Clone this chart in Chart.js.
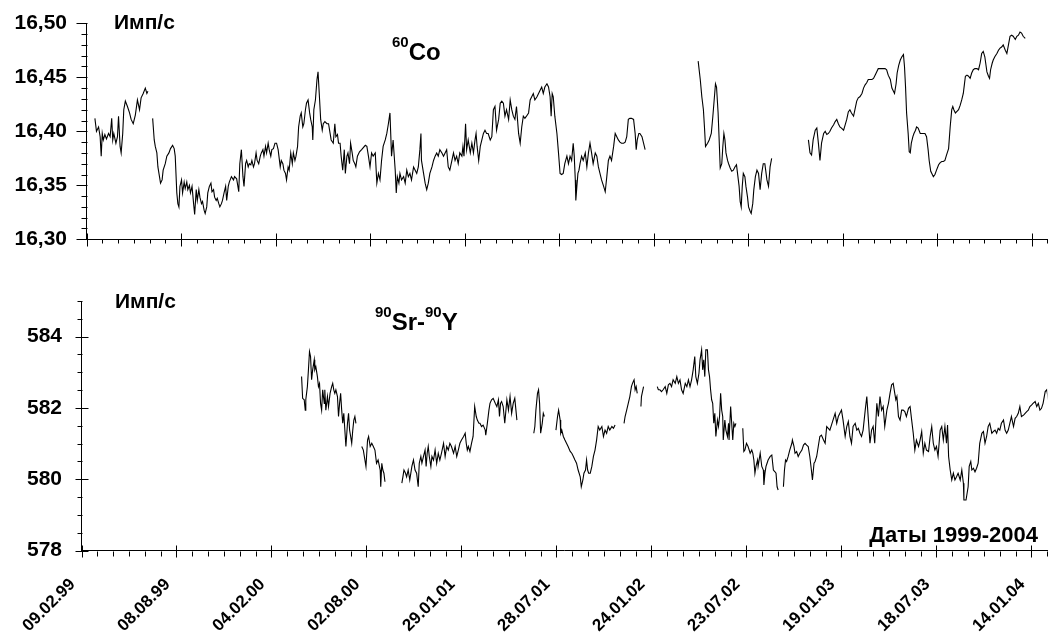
<!DOCTYPE html>
<html><head><meta charset="utf-8">
<script src="https://cdn.jsdelivr.net/npm/chart.js@4.4.0/dist/chart.umd.min.js"></script>
<style>
html,body{margin:0;padding:0;background:#fff;}
#wrap{position:relative;width:1048px;height:637px;overflow:hidden;font-family:"Liberation Sans",Arial,sans-serif;font-weight:bold;color:#000;}
#c1{position:absolute;left:0;top:0;width:1048px;height:262px;}
#c2{position:absolute;left:0;top:262px;width:1048px;height:375px;}
.t{position:absolute;line-height:1;white-space:nowrap;}
.t sup{font-size:15px;vertical-align:baseline;position:relative;top:-13px;line-height:1;}
</style></head><body>
<div id="wrap">
<canvas id="c1" width="1048" height="262"></canvas>
<canvas id="c2" width="1048" height="375"></canvas>
<div class="t" style="left:114px;top:11px;font-size:21px">Имп/с</div>
<div class="t" style="left:392px;top:40px;font-size:24px"><sup>60</sup>Co</div>
<div class="t" style="left:115px;top:290px;font-size:21px">Имп/с</div>
<div class="t" style="left:375px;top:310px;font-size:24px"><sup>90</sup>Sr-<sup>90</sup>Y</div>
<div class="t" style="right:10px;top:524px;font-size:22px">Даты 1999-2004</div>
</div>
<script>
// Date tick labels, one every 180 days starting 09.02.99 (day 0)
const dateLabels = ['09.02.99','08.08.99','04.02.00','02.08.00','29.01.01','28.07.01','24.01.02','23.07.02','19.01.03','18.07.03','14.01.04'];
const coTickValues = [16.30,16.35,16.40,16.45,16.50];
const srTickValues = [578,580,582,584];

// 60Co: day since 09.02.99, count rate (imp/s); null = gap
const coDays = [
16,19,23,26,28,30,32,35,38,42, 45,48,50,52,56,59,61,64,66,69, 71,74,78,82,85,89,93,97,101,104, 108,112,115,117,
121,
126,129,131,134,136,139,141,144,146,150, 153,157,160,164,167,169,172,174,176,178, 181,183,186,188,191,193,196,198,201,204,
206,209,211,214,216,219,221,224,226,229, 231,234,237,239,242,244,247,249,252,254, 257,259,262,265,267,270,272,276,280,282,
286,290,292,295,298,300,303,305,308,310, 313,315,318,320,323,325,328,331,333,336, 338,341,343,346,348,351,353,356,359,362,
365,369,371,374,376,379,381,384,386,389, 392,394,397,399,402,404,407,409,412,414, 417,419,422,425,427,430,431,433,436,439,
441,444,446,449,451,454,458,461,464,466, 470,473,475,478,480,483,485,488,491,493, 496,498,501,503,506,508,511,513,516,520,
524,531,534,537,540,543,546,550,553,556, 559,562,565,569,572,575,578,581,584,588, 590,592,595,597,600,604,607,610,613,616,
619,623,626,629,632,635,637,638,642,645, 648,651,654,658,661,664,667,670,673,677, 680,683,686,689,692,696,699,702,705,708,
711,715,717,719,722,724,727,731,734,737, 740,742,744,747,750,753,756,759,762,765, 769,772,775,778,781,785,788,791,794,797,
800,804,807,810,813,816,819,823,826,829, 832,835,838,842,845,848,851,854,858,861, 864,867,870,873,877,880,883,885,887,889,
892,896,899,902,905,908,911,915,918,921, 924,927,929,931,932,934,936,938,940,943, 946,950,953,956,959,962,965,969,972,975,
978,981,985,988,991,994,997,1000,1004,1007, 1010,1013,1016,1019,1023,1026,1029,1032,1035,1038, 1042,1045,1047,1049,1052,1054,1058,1061,1064,
1110,
1165,1169,1172,1175,1177,1179,1183,1186,1190,1193, 1195,1198,1200,1203,1205,1207,1210,1212,1214,1216, 1218,1221,1223,1226,1229,1232,1235,1238,1240,1243,
1245,1247,1249,1251,1254,1256,1259,1261,1264,1266, 1269,1271,1274,1277,1280,1283,1286,1289,1292,1296, 1299,1302,1305,
1340,
1375,1378,1381,1384,1388,1391,1394,1397,1400,1404, 1407,1410,1413,1416,1419,1423,1426,1429,1432,1435, 1438,1442,1445,1448,1451,1454,1457,1461,1464,1467,
1470,1473,1477,1480,1483,1486,1489,1492,1496,1499, 1502,1505,1508,1515,1521,1524,1527,1531,1534,1537, 1539,1542,1544,1547,1550,1553,1556,1558,1560,1562,
1565,1567,1569,1571,1574,1576,1579,1581,1584,1588, 1591,1594,1597,1600,1603,1605,1608,1611,1613,1616, 1619,1623,1626,1629,1632,1635,1638,1642,1645,1648,
1650,1652,1655,1657,1661,1664,1667,1670,1672,1674, 1677,1680,1683,1686,1689,1692,1696,1699,1702,1705, 1708,1711,1715,1718,1720,1722,1725,1727,1730,1734,
1737,1740,1743,1746,1750,1753,1756,1759,1762,1765, 1769,1772,1775,1778,1781,1784,1788
];
const coCounts = [
16.412,16.400,16.404,16.395,16.377,16.398,16.392,16.397,16.393,16.398, 16.395,16.412,16.392,16.398,16.389,16.395,16.414,16.386,16.380,16.398, 16.420,16.428,16.423,16.417,16.411,16.407,16.415,16.429,16.420,16.431, 16.435,16.440,16.435,16.437,
null,
16.412,16.392,16.386,16.380,16.367,16.358,16.352,16.355,16.364,16.370, 16.377,16.380,16.384,16.387,16.384,16.377,16.343,16.333,16.330,16.349, 16.355,16.343,16.353,16.347,16.353,16.346,16.350,16.343,16.349,16.333,
16.323,16.346,16.336,16.346,16.339,16.333,16.335,16.327,16.324,16.330, 16.343,16.349,16.352,16.344,16.346,16.339,16.336,16.338,16.333,16.330, 16.333,16.336,16.343,16.349,16.336,16.349,16.353,16.358,16.355,16.358,
16.356,16.344,16.370,16.383,16.358,16.349,16.370,16.373,16.367,16.370, 16.369,16.373,16.367,16.370,16.380,16.373,16.370,16.377,16.380,16.383, 16.377,16.386,16.380,16.389,16.383,16.377,16.383,16.384,16.389,16.389,
16.383,16.367,16.373,16.370,16.364,16.361,16.355,16.367,16.364,16.380, 16.370,16.380,16.373,16.377,16.386,16.404,16.414,16.417,16.404,16.407, 16.420,16.426,16.429,16.417,16.411,16.404,16.392,16.420,16.429,16.448,
16.455,16.429,16.411,16.401,16.407,16.409,16.407,16.407,16.398,16.392, 16.389,16.407,16.395,16.397,16.389,16.389,16.377,16.364,16.383,16.361, 16.377,16.380,16.370,16.389,16.380,16.373,16.370,16.367,16.377,16.381,
16.383,16.387,16.386,16.377,16.367,16.380,16.377,16.380,16.352,16.361, 16.355,16.373,16.386,16.392,16.398,16.407,16.417,16.377,16.392,16.364, 16.343,16.358,16.352,16.361,16.355,16.358,16.352,16.364,16.358,16.361,
16.355,16.367,16.364,16.361,16.367,16.383,16.398,16.373,16.361,16.352, 16.346,16.352,16.361,16.367,16.373,16.377,16.380,16.377,16.383,16.380, 16.377,16.380,16.383,16.367,16.364,16.373,16.380,16.373,16.377,16.370,
16.380,16.377,16.386,16.377,16.407,16.383,16.392,16.380,16.389,16.380, 16.392,16.398,16.386,16.373,16.386,16.392,16.398,16.401,16.398,16.398, 16.392,16.395,16.420,16.423,16.401,16.411,16.426,16.428,16.426,16.414,
16.420,16.411,16.429,16.420,16.414,16.411,16.423,16.398,16.389,16.404, 16.414,16.412,16.414,16.417,16.429,16.432,16.435,16.429,16.432,16.435, 16.438,16.441,16.435,16.441,16.444,16.441,16.432,16.414,16.435,16.432,
16.414,16.398,16.380,16.361,16.360,16.361,16.370,16.377,16.370,16.377, 16.373,16.389,16.377,16.355,16.336,16.349,16.361,16.364,16.370,16.377, 16.373,16.380,16.367,16.380,16.389,16.380,16.370,16.380,16.377,16.367,
16.361,16.355,16.349,16.344,16.358,16.373,16.377,16.373,16.386,16.398, 16.395,16.392,16.390,16.389,16.389,16.390,16.395,16.411,16.412,16.412, 16.411,16.398,16.383,16.392,16.398,16.398,16.395,16.389,16.383,
null,
16.465,16.448,16.432,16.420,16.404,16.386,16.389,16.392,16.398,16.414, 16.426,16.444,16.441,16.417,16.392,16.366,16.370,16.386,16.398,16.392, 16.380,16.373,16.370,16.366,16.363,16.364,16.367,16.369,16.361,16.349,
16.335,16.330,16.349,16.361,16.358,16.349,16.339,16.330,16.326,16.324, 16.333,16.346,16.358,16.364,16.361,16.346,16.361,16.370,16.370,16.355, 16.349,16.367,16.375,
null,
16.392,16.380,16.378,16.392,16.401,16.403,16.389,16.373,16.389,16.398, 16.400,16.397,16.398,16.400,16.403,16.406,16.409,16.411,16.407,16.404, 16.403,16.401,16.406,16.411,16.418,16.420,16.417,16.414,16.421,16.428,
16.431,16.432,16.435,16.440,16.443,16.445,16.448,16.448,16.448,16.449, 16.452,16.455,16.458,16.458,16.458,16.457,16.452,16.448,16.440,16.437, 16.435,16.444,16.454,16.461,16.466,16.469,16.471,16.460,16.441,16.417,
16.398,16.381,16.380,16.389,16.395,16.398,16.401,16.404,16.403,16.398, 16.398,16.398,16.398,16.395,16.383,16.373,16.363,16.360,16.358,16.360, 16.364,16.369,16.371,16.372,16.372,16.373,16.378,16.384,16.404,16.420,
16.423,16.420,16.417,16.418,16.420,16.424,16.429,16.435,16.443,16.451, 16.452,16.451,16.449,16.454,16.457,16.458,16.458,16.457,16.463,16.472, 16.474,16.469,16.455,16.451,16.449,16.457,16.463,16.466,16.469,16.472,
16.475,16.477,16.478,16.480,16.475,16.472,16.480,16.488,16.489,16.488, 16.485,16.488,16.489,16.492,16.491,16.488,16.486
];

// 90Sr-90Y: day since 09.02.99, count rate (imp/s); null = gap
const srDays = [
417,419,422,424,425,428,430,432,434,436, 438,441,442,444,447,449,451,453,455,457, 460,461,463,466,468,471,474,476,478,480, 482,485,487,489,491,493,495,497,499,501, 504,506,508,510,512,514,516,518,520,
525,
531,534,537,539,542,544,547,550,553,556, 559,562,566,567,569,571,573,575,
590,
607,609,611,614,616,619,622,626,629,632, 635,638,640,643,645,648,651,653,655,657, 659,662,664,667,670,673,676,679,682,686, 689,692,695,698,701,705,708,711,714,717,
720,724,727,729,731,733,736,739,742,745, 748,750,753,755,758,761,765,766,769,772, 774,777,780,784,787,790,792,794,796,799, 802,806,809,812,815,818,821,825,
840,
857,859,861,864,866,868,870,873,875,877,
888,
899,902,904,907,908,910,913,916,919,922, 926,929,932,935,938,941,945,947,950,952, 955,957,959,961,964,967,970,973,976,979, 982,986,989,992,995,998,1001,1005,1008,1011,
1020,
1028,1030,1033,1036,1039,1042,1044,1047,1049,1051,1053,
1056,
1060,1061,1065,
1078,
1091,1093,1096,1099,1102,1106,1109,1112,1115,1118, 1121,1125,1128,1131,1134,1137,1140,1144,1147,1150, 1153,1156,1159,1162,1164,1167,1170,1172,1175,1177,
1179,1181,1183,1186,1188,1190,1192,1194,1196,1198, 1200,1202,1205,1207,1209,1211,1213,1215,1216,1219, 1221,1224,1226,1227,1230,1232,1234,1236,1238,1240,
1246,
1253,1255,1257,1260,1263,1267,1270,1272,1274,1276, 1278,1281,1282,1286,1289,1292,1293,1295,1297,1299, 1301,1305,1308,1311,1314,1316,1318,1320,
1325,
1330,1332,1334,1336,1339,1342,1346,1347,1350,1352, 1355,1358,1361,1365,1368,1371,1374,1377,1380,1383, 1385,1388,1390,1393,1396,1399,1402,1406,1409,1412,
1415,1418,1421,1425,1428,1431,1434,1437,1440,1443, 1447,1450,1453,1456,1459,1462,1466,1469,1472,1475, 1478,1481,1485,1488,1491,1494,1497,1500,1503,1507,
1510,1513,1516,1519,1522,1526,1529,1532,1535,1538, 1541,1543,1545,1548,1551,1554,1557,1560,1563,1567, 1570,1573,1576,1579,1582,1586,1589,1592,1595,1598,
1601,1605,1608,1611,1614,1617,1620,1623,1627,1630, 1633,1636,1639,1641,1643,1646,1649,1652,1655,1658, 1661,1665,1668,1671,1672,1676,1680,1682,1685,1687,
1690,1693,1696,1699,1702,1706,1709,1712,1715,1718, 1721,1725,1728,1731,1734,1737,1740,1743,1747,1750, 1753,1756,1759,1762,1766,1769,1772,1775,1778,1781,
1785,1788,1791,1794,1797,1800,1803,1807,1810,1813, 1816,1819,1822,1826,1829,1832
];
const srCounts = [
582.88,582.27,582.23,581.94,582.23,582.60,583.07,583.58,583.44,582.79, 583.07,583.35,583.07,583.16,582.88,582.60,582.69,582.13,581.94,582.51, 582.13,582.51,581.94,582.32,582.04,582.41,582.60,582.69,582.51,582.41, 582.51,582.32,581.76,582.13,582.41,581.94,581.57,581.85,581.38,580.92, 581.57,581.85,581.38,581.20,581.01,581.38,581.66,581.76,581.57,
null,
580.92,580.82,580.54,580.36,581.10,581.20,580.92,581.01,580.92,580.82, 580.45,580.54,580.26,579.79,580.45,580.26,580.17,579.93,
null,
579.89,580.07,580.26,580.17,580.07,580.26,579.98,580.36,580.54,580.26, 580.17,579.79,580.45,580.64,580.45,580.64,580.82,580.36,580.73,580.92, 580.64,580.36,580.64,580.54,580.82,580.45,580.73,580.54,580.73,581.01, 580.64,580.92,580.82,581.01,580.92,580.73,580.92,580.64,580.82,581.01,
581.10,581.20,581.29,581.01,580.82,580.92,580.78,581.01,581.20,582.04, 581.76,581.66,581.57,581.57,581.48,581.52,581.38,581.24,581.57,581.94, 582.13,582.23,582.27,582.13,582.04,582.23,581.76,582.13,582.18,582.04, 581.57,582.23,581.94,582.32,581.85,582.13,582.27,581.66,
null,
581.29,581.48,581.94,582.41,582.51,582.13,581.29,581.57,581.85,581.76,
null,
581.38,581.76,581.94,581.66,581.29,581.38,581.20,581.10,581.01,580.92, 580.78,580.73,580.64,580.54,580.45,580.26,580.07,579.79,579.98,580.17, 580.26,580.54,580.26,580.17,580.17,580.36,580.64,580.82,581.10,581.48, 581.38,581.48,581.20,581.38,581.29,581.48,581.38,581.48,581.43,581.52,
null,
581.57,581.76,581.94,582.13,582.32,582.60,582.69,582.79,582.51,582.60,582.41,
null,
582.04,582.32,582.60,
null,
582.60,582.51,582.51,582.46,582.51,582.60,582.41,582.65,582.69,582.60, 582.79,582.69,582.88,582.69,582.79,582.51,582.41,582.69,582.60,582.79, 582.60,582.79,583.07,583.44,582.88,582.69,582.98,583.35,583.63,583.07,
583.35,582.88,583.63,583.63,583.07,582.88,582.51,582.23,582.13,581.57, 581.85,581.20,581.66,581.48,581.76,582.41,581.94,581.76,581.10,581.66, 581.38,581.20,581.57,581.10,582.04,581.57,581.10,581.57,581.48,581.57,
null,
581.43,580.78,580.82,581.01,580.92,580.73,580.82,580.73,580.54,580.17, 580.36,580.54,580.36,580.73,580.36,580.26,579.84,580.17,580.36,580.45, 580.54,580.64,580.68,580.26,580.21,580.17,579.79,579.70,
null,
579.79,580.26,580.54,580.50,580.64,580.82,581.01,581.10,580.92,580.73, 580.78,580.64,580.73,580.82,580.96,581.01,580.96,580.92,580.64,580.26, 579.98,580.45,580.50,580.64,580.92,581.20,581.24,581.10,581.01,581.48,
581.43,581.38,581.52,581.71,581.85,581.57,581.76,581.85,581.94,581.66, 581.20,581.48,581.62,581.20,581.01,581.48,581.57,581.38,581.43,581.29, 581.20,581.38,581.94,582.32,581.66,581.01,581.38,581.48,581.01,582.13,
581.76,582.32,581.94,582.04,581.48,581.94,582.13,582.41,582.65,582.69, 582.41,582.23,582.32,581.76,581.66,581.94,581.94,581.90,581.76,581.99, 582.04,581.66,581.29,580.82,581.10,580.92,581.10,581.34,580.73,581.01,
580.82,580.78,581.20,581.48,581.01,580.82,580.92,580.64,581.38,581.48, 581.10,581.48,581.01,581.52,580.64,580.26,579.98,580.17,579.98,580.07, 580.17,579.98,580.26,579.89,579.42,579.42,579.79,580.36,580.50,580.26,
580.31,580.21,580.31,580.45,581.01,581.29,581.34,581.01,581.20,581.48, 581.57,581.29,581.34,581.38,581.29,581.43,581.38,581.57,581.66,581.38, 581.29,581.38,581.57,581.76,581.48,581.71,581.76,581.85,582.04,581.76,
581.80,581.85,581.90,581.94,582.04,582.08,582.13,582.18,582.04,582.13, 581.94,581.99,582.13,582.46,582.51,582.23
];

if (coDays.length !== coCounts.length) console.error('co length mismatch', coDays.length, coCounts.length);
if (srDays.length !== srCounts.length) console.error('sr length mismatch', srDays.length, srCounts.length);

const FONT = '"Liberation Sans", Arial, sans-serif';
const DAY_MAX = 1830, MINOR_DAYS = 30, MAJOR_DAYS = 180;

const tickMarks = {
  id: 'tickMarks',
  afterDraw(chart, args, o) {
    const ctx = chart.ctx, xs = chart.scales.x, ys = chart.scales.y, ca = chart.chartArea;
    ctx.save();
    ctx.strokeStyle = '#000';
    ctx.lineWidth = 1;
    ctx.beginPath();
    const axY = Math.round(ca.bottom) + 0.5;
    for (let d = 0; d <= DAY_MAX; d += MINOR_DAYS) {
      const px = Math.round(xs.getPixelForValue(d)) + 0.5;
      if (d % MAJOR_DAYS === 0) { ctx.moveTo(px, axY - o.xUp); ctx.lineTo(px, axY + o.xMajor); }
      else { ctx.moveTo(px, axY); ctx.lineTo(px, axY + o.xMinor); }
    }
    const axX = Math.round(ca.left) + 0.5;
    const n = Math.round((ys.max - ys.min) / o.yStep);
    for (let i = 0; i <= n; i++) {
      const v = ys.min + i * o.yStep;
      const py = Math.round(ys.getPixelForValue(v)) + 0.5;
      if (i % o.yEvery === 0) { ctx.moveTo(axX - o.yMajor, py); ctx.lineTo(axX + o.yRight, py); }
      else { ctx.moveTo(axX - o.yMinor, py); ctx.lineTo(axX, py); }
    }
    ctx.stroke();
    ctx.restore();
  }
};

function makeChart(id, days, counts, opt) {
  const pts = days.map((d, i) => ({x: d, y: counts[i]}));
  return new Chart(document.getElementById(id), {
    type: 'line',
    data: {datasets: [{data: pts, borderColor: '#000', borderWidth: 1.1, pointRadius: 0, tension: 0, spanGaps: false, fill: false}]},
    plugins: [tickMarks],
    options: {
      responsive: false, animation: false, events: [],
      layout: {padding: {top: opt.padTop, right: 0.7, bottom: 0, left: 0}},
      plugins: {legend: {display: false}, tooltip: {enabled: false}, tickMarks: opt.marks},
      scales: {
        x: {
          type: 'linear', min: 0, max: DAY_MAX,
          grid: {display: false, drawTicks: false},
          border: {display: true, color: '#000', width: 1},
          afterBuildTicks: s => { s.ticks = dateLabels.map((l, i) => ({value: i * MAJOR_DAYS})); },
          ticks: {
            display: opt.xLabels, autoSkip: false, minRotation: 45, maxRotation: 45, padding: 24, labelOffset: -9,
            color: '#000', font: {family: FONT, size: 17, weight: 'bold'},
            callback: v => dateLabels[Math.round(v / MAJOR_DAYS)] || ''
          },
          afterFit: s => { s.height = opt.xHeight; s.paddingLeft = 0; s.paddingRight = 0; s.paddingTop = 0; s.paddingBottom = 0; }
        },
        y: {
          type: 'linear', min: opt.yMin, max: opt.yMax,
          grid: {display: false, drawTicks: false},
          border: {display: true, color: '#000', width: 1},
          afterBuildTicks: s => { s.ticks = opt.yTicks.map(v => ({value: v})); },
          ticks: {
            padding: 19.5, color: '#000', font: {family: FONT, size: 21, weight: 'bold'},
            callback: opt.yFormat
          },
          afterFit: s => { s.width = opt.yWidth; s.paddingTop = 0; s.paddingBottom = 0; }
        }
      }
    }
  });
}

makeChart('c1', coDays, coCounts, {
  padTop: 23.3, xHeight: 22.7, xLabels: false, yWidth: 86.5,
  yMin: 16.30, yMax: 16.50, yTicks: coTickValues,
  yFormat: v => Number(v).toFixed(2).replace('.', ','),
  marks: {xUp: 6, xMajor: 7, xMinor: 4, yStep: 0.01, yEvery: 5, yMajor: 11, yRight: 0, yMinor: 6}
});
makeChart('c2', srDays, srCounts, {
  padTop: 39, xHeight: 86.4, xLabels: true, yWidth: 81.5,
  yMin: 578, yMax: 585, yTicks: srTickValues,
  yFormat: v => String(Math.round(v)),
  marks: {xUp: 6, xMajor: 6, xMinor: 5, yStep: 0.5, yEvery: 4, yMajor: 7, yRight: 6, yMinor: 5}
});
</script>
</body></html>
